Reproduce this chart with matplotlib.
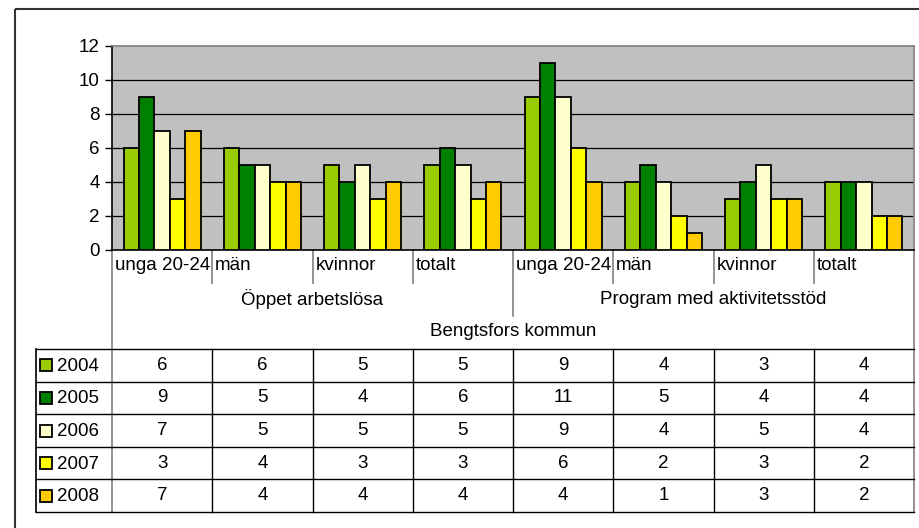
import matplotlib
matplotlib.use('Agg')
import matplotlib.pyplot as plt
from matplotlib.transforms import blended_transform_factory
from matplotlib.patches import Rectangle
import numpy as np

plt.rcParams['font.family'] = ['Liberation Sans', 'DejaVu Sans']

# data
categories = ['unga 20-24', 'män', 'kvinnor', 'totalt',
              'unga 20-24', 'män', 'kvinnor', 'totalt']
groups = ['Öppet arbetslösa', 'Program med aktivitetsstöd']
top_group = 'Bengtsfors kommun'
years = ['2004', '2005', '2006', '2007', '2008']
values = {
    '2004': [6, 6, 5, 5, 9, 4, 3, 4],
    '2005': [9, 5, 4, 6, 11, 5, 4, 4],
    '2006': [7, 5, 5, 5, 9, 4, 5, 4],
    '2007': [3, 4, 3, 3, 6, 2, 3, 2],
    '2008': [7, 4, 4, 4, 4, 1, 3, 2],
}
colors = ['#99CC00', '#008000', '#FFFFCC', '#FFFF00', '#FFCC00']
yticks = [0, 2, 4, 6, 8, 10, 12]

W, H = 919, 528
fs = 13.5
fig = plt.figure(figsize=(W / 100, H / 100), dpi=100)

# overlay in pixel coords (y downwards)
ov = fig.add_axes([0, 0, 1, 1])
ov.set_xlim(0, W)
ov.set_ylim(H, 0)
ov.axis('off')

# plot area: pixels 112..914 x 46..250
L, R, T, B = 112, 914, 46, 250
ax = fig.add_axes([L / W, 1 - B / H, (R - L) / W, (B - T) / H])
ax.set_facecolor('#C0C0C0')
n = len(categories)
x = np.arange(n)
w = 1 / 6.5
for j, yr in enumerate(years):
    ax.bar(x + (j - 2) * w, values[yr], w, color=colors[j], edgecolor='black',
           linewidth=1.3, zorder=3)
ax.set_xlim(-0.5, n - 0.5)
ax.set_ylim(0, 12)
ax.set_yticks(yticks)
ax.set_yticklabels([str(t) for t in yticks], fontsize=fs)
ax.tick_params(axis='y', length=5, width=1, pad=4)
ax.set_xticks([])
for t in yticks[1:-1]:
    ax.axhline(t, color='black', lw=0.9, zorder=1)
ax.spines['top'].set_color('#808080')
ax.spines['right'].set_color('#808080')
ax.spines['left'].set_color('black')
ax.spines['bottom'].set_color('black')
for s in ax.spines.values():
    s.set_linewidth(1.2)

tr = blended_transform_factory(ax.transData, ov.transData)

# outer frame
ov.add_patch(Rectangle((15, 9), 950, 600, fill=False, ec='#333333', lw=1.5))

gray = '#808080'
colw = (R - L) / n
# category row
for i, c in enumerate(categories):
    ov.text(L + i * colw + 3, 266, c, fontsize=fs, ha='left', va='center')
    if i > 0:
        y2 = 316 if i == 4 else 283
        ov.plot([L + i * colw] * 2, [B, y2], color=gray, lw=1.2)
for g, gname in enumerate(groups):
    ov.text(L + (g * 4 + 2) * colw, 299, gname, fontsize=fs, ha='center', va='center')
ov.text((L + R) / 2, 332, top_group, fontsize=fs, ha='center', va='center')

# table
rows_y = np.linspace(349, 512, len(years) + 1)
ov.plot([L, L], [B, rows_y[-1]], color=gray, lw=1.2)
ov.plot([R, R], [B, rows_y[-1]], color=gray, lw=1.2)
ov.plot([36, 36], [rows_y[0], rows_y[-1]], color='black', lw=1.2)
for yy in rows_y:
    ov.plot([36, R], [yy, yy], color='black', lw=1.0)
for i in range(1, n):
    ov.plot([L + i * colw] * 2, [rows_y[0], rows_y[-1]], color='black', lw=1.0)
for j, yr in enumerate(years):
    yc = (rows_y[j] + rows_y[j + 1]) / 2
    ov.add_patch(Rectangle((40, yc - 6), 12, 12, fc=colors[j], ec='black', lw=1.3))
    ov.text(57, yc + 1, yr, fontsize=fs, ha='left', va='center')
    for i, v in enumerate(values[yr]):
        ov.text(i, yc, str(v), fontsize=fs, ha='center', va='center', transform=tr)

fig.savefig('out.png', dpi=100)
